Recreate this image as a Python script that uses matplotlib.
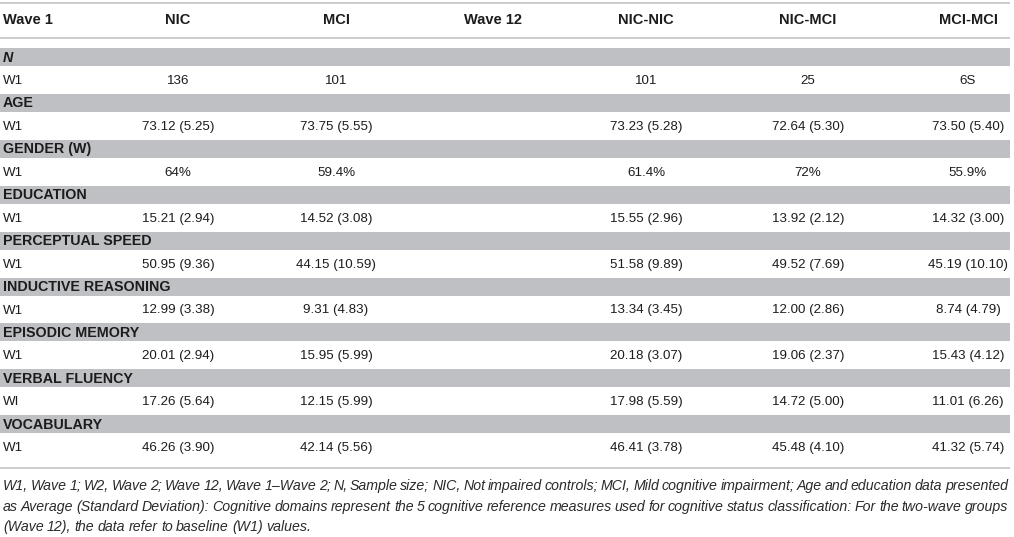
import matplotlib
matplotlib.use('Agg')
import matplotlib.pyplot as plt
from matplotlib.patches import Rectangle

# Colonnes du tableau
columns = ["Wave 1", "NIC", "MCI", "Wave 12", "NIC-NIC", "NIC-MCI", "MCI-MCI"]

# Sections (bandes grises)
sections = ["N", "AGE", "GENDER (W)", "EDUCATION", "PERCEPTUAL SPEED",
            "INDUCTIVE REASONING", "EPISODIC MEMORY", "VERBAL FLUENCY", "VOCABULARY"]
row_labels = ["W1", "W1", "W1", "W1", "W1", "W1", "W1", "WI", "W1"]

# Valeurs par groupe
nic = ["136", "73.12 (5.25)", "64%", "15.21 (2.94)", "50.95 (9.36)",
       "12.99 (3.38)", "20.01 (2.94)", "17.26 (5.64)", "46.26 (3.90)"]
mci = ["101", "73.75 (5.55)", "59.4%", "14.52 (3.08)", "44.15 (10.59)",
       "9.31 (4.83)", "15.95 (5.99)", "12.15 (5.99)", "42.14 (5.56)"]
nic_nic = ["101", "73.23 (5.28)", "61.4%", "15.55 (2.96)", "51.58 (9.89)",
           "13.34 (3.45)", "20.18 (3.07)", "17.98 (5.59)", "46.41 (3.78)"]
nic_mci = ["25", "72.64 (5.30)", "72%", "13.92 (2.12)", "49.52 (7.69)",
           "12.00 (2.86)", "19.06 (2.37)", "14.72 (5.00)", "45.48 (4.10)"]
mci_mci = ["6S", "73.50 (5.40)", "55.9%", "14.32 (3.00)", "45.19 (10.10)",
           "8.74 (4.79)", "15.43 (4.12)", "11.01 (6.26)", "41.32 (5.74)"]

caption_lines = [
    "W1, Wave 1; W2, Wave 2; Wave 12, Wave 1\u2013Wave 2; N, Sample size; NIC, Not impaired controls; "
    "MCI, Mild cognitive impairment; Age and education data presented",
    "as Average (Standard Deviation): Cognitive domains represent the 5 cognitive reference measures "
    "used for cognitive status classification: For the two-wave groups",
    "(Wave 12), the data refer to baseline (W1) values.",
]

W, H = 1014, 537
fig = plt.figure(figsize=(W / 100, H / 100), dpi=100)
ax = fig.add_axes([0, 0, 1, 1])
ax.set_xlim(0, W)
ax.set_ylim(H, 0)
ax.axis('off')

FONT = ['Liberation Sans', 'DejaVu Sans']
TXT = '#1c1c1c'
LINE = '#c4c4c4'
BAND = '#bfc0c3'

col_x = [3, 178, 336, 493, 646, 808, 968]
right = 1010

# Lignes horizontales
for y in (3, 38, 468):
    ax.plot([0, right], [y, y], color=LINE, lw=1.2, solid_capstyle='butt')

# En-tete
for i, c in enumerate(columns):
    ha = 'left' if i == 0 else 'center'
    ax.text(col_x[i], 20, c, ha=ha, va='center', fontsize=10.5,
            fontweight='bold', family=FONT, color=TXT)

pitch = 45.9
band_h = 18
data_cols = [(1, nic), (2, mci), (4, nic_nic), (5, nic_mci), (6, mci_mci)]
for k, sec in enumerate(sections):
    top = 48 + k * pitch
    ax.add_patch(Rectangle((0, top), right, band_h, facecolor=BAND, edgecolor='none'))
    style = 'italic' if sec == "N" else 'normal'
    ax.text(3, top + band_h / 2 + 0.5, sec, ha='left', va='center', fontsize=10.3,
            fontweight='bold', fontstyle=style, family=FONT, color=TXT)
    yrow = top + band_h + 15
    ax.text(3, yrow, row_labels[k], ha='left', va='center', fontsize=9.6,
            family=FONT, color=TXT)
    for ci, vals in data_cols:
        ax.text(col_x[ci], yrow, vals[k], ha='center', va='center', fontsize=9.6,
                family=FONT, color=TXT)

# Legende en italique, justifiee
cap_font = ['Liberation Sans Narrow', 'Liberation Sans', 'DejaVu Sans']
renderer = fig.canvas.get_renderer()
cap_y = [486, 507, 527]
for li, line in enumerate(caption_lines):
    words = line.split(' ')
    objs = [ax.text(3, cap_y[li], w, ha='left', va='center', fontsize=10.2,
                    fontstyle='italic', family=cap_font, color='#2a2a2a') for w in words]
    widths = [t.get_window_extent(renderer).width for t in objs]
    if li == len(caption_lines) - 1:
        gap = 3.3  # derniere ligne: espacement normal
    else:
        gap = (1008 - 3 - sum(widths)) / (len(objs) - 1)
    x = 3
    for t, w in zip(objs, widths):
        t.set_x(x)
        x += w + gap

fig.savefig('out.png', dpi=100)
plt.close(fig)
